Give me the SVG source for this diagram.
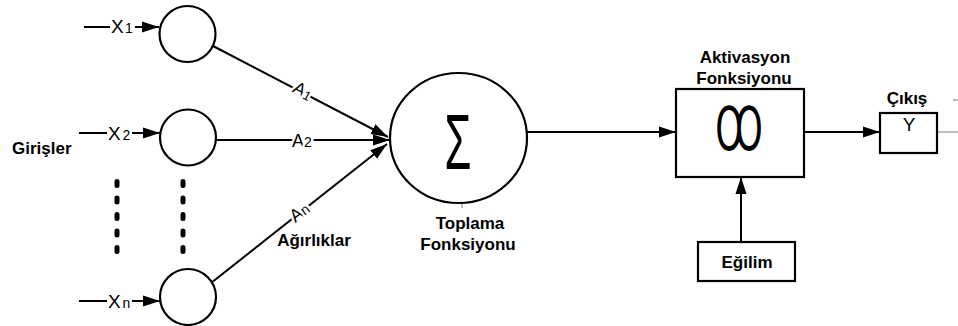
<svg xmlns="http://www.w3.org/2000/svg" width="958" height="326" viewBox="0 0 958 326">
<defs>
<style>
.ln{stroke:#000;stroke-width:2;fill:none}
.gr{stroke:#999;stroke-width:1.3;fill:none}
.nd{stroke:#000;stroke-width:2.2;fill:#fff}
.b{font-family:"Liberation Sans",Arial,sans-serif;font-weight:bold;font-size:17px;fill:#000}
.r{font-family:"Liberation Sans",Arial,sans-serif;font-size:19px;fill:#000}
.s{font-family:"Liberation Sans",Arial,sans-serif;font-size:14px;fill:#000}
.lab{font-family:"Liberation Sans",Arial,sans-serif;font-size:18px;fill:#000;stroke:#fff;stroke-width:5;paint-order:stroke}
.dots{stroke:#000;stroke-width:5;stroke-linecap:round;stroke-dasharray:4 12.5;fill:none}
</style>
<marker id="ah" markerUnits="userSpaceOnUse" markerWidth="18" markerHeight="12" refX="17" refY="6" orient="auto">
<path d="M0,0.5 L17,6 L0,11.5 z" fill="#000"/>
</marker>
</defs>

<g id="connectors">
<line class="ln" x1="84" y1="27" x2="110" y2="27"/>
<line class="ln" x1="135" y1="27" x2="159" y2="27" marker-end="url(#ah)"/>
<line class="ln" x1="79" y1="133" x2="107" y2="133"/>
<line class="ln" x1="132" y1="133" x2="160" y2="133" marker-end="url(#ah)"/>
<line class="ln" x1="79" y1="301" x2="107" y2="301"/>
<line class="ln" x1="132" y1="301" x2="160" y2="301" marker-end="url(#ah)"/>
<line class="ln" x1="213" y1="46" x2="388" y2="137" marker-end="url(#ah)"/>
<line class="ln" x1="216" y1="140" x2="390" y2="140" marker-end="url(#ah)"/>
<line class="ln" x1="211" y1="283" x2="387" y2="144" marker-end="url(#ah)"/>
<line class="ln" x1="527" y1="132" x2="676" y2="132" marker-end="url(#ah)"/>
<line class="ln" x1="804" y1="132" x2="880" y2="132" marker-end="url(#ah)"/>
<line class="ln" x1="741" y1="242" x2="741" y2="177" marker-end="url(#ah)"/>
<line class="gr" x1="937" y1="132" x2="958" y2="132"/>
<line class="gr" x1="953" y1="100" x2="958" y2="100"/>
<line class="gr" x1="462" y1="203" x2="462" y2="208"/>
<line class="dots" x1="117" y1="181.5" x2="117" y2="252"/>
<line class="dots" x1="183" y1="181.5" x2="183" y2="252"/>
<g id="weight-labels">
<text class="lab" transform="translate(300,96) rotate(28)" text-anchor="middle">A<tspan font-size="13" dy="1">1</tspan></text>
<text class="lab" x="302" y="147" text-anchor="middle">A<tspan font-size="14">2</tspan></text>
<text class="lab" transform="translate(303,217) rotate(-38)" text-anchor="middle">A<tspan font-size="14">n</tspan></text>
</g>
</g>

<g id="x1">
<circle class="nd" cx="187.5" cy="34" r="28"/>
<text class="r" x="111" y="33">X</text><text class="s" x="125" y="33">1</text>
</g>
<g id="x2">
<circle class="nd" cx="188" cy="137.5" r="28"/>
<text class="r" x="108" y="140">X</text><text class="s" x="122.5" y="140">2</text>
</g>
<g id="xn">
<circle class="nd" cx="188" cy="297" r="28"/>
<text class="r" x="108" y="308">X</text><text class="s" x="122.5" y="308">n</text>
</g>

<g id="girisler"><text class="b" x="12" y="154">Girişler</text></g>
<g id="agirliklar"><text class="b" x="314" y="246" text-anchor="middle">Ağırlıklar</text></g>

<g id="toplama">
<ellipse class="nd" cx="458.5" cy="138" rx="68.5" ry="65"/>
<text transform="translate(458,169) scale(0.75,1.35)" text-anchor="middle" font-family="'Liberation Sans',Arial,sans-serif" font-size="58">Σ</text>
<text class="b" x="470" y="229" text-anchor="middle">Toplama</text>
<text class="b" x="468" y="250" text-anchor="middle">Fonksiyonu</text>
</g>

<g id="aktivasyon">
<rect class="nd" x="676" y="89" width="128" height="88"/>
<text transform="translate(739,150) scale(0.7,1.2)" text-anchor="middle" font-family="'DejaVu Sans',sans-serif" font-size="50">Ꝏ</text>
<text class="b" x="745" y="63" text-anchor="middle">Aktivasyon</text>
<text class="b" x="744" y="84" text-anchor="middle">Fonksiyonu</text>
</g>

<g id="egilim">
<rect class="nd" x="698" y="242" width="97" height="39"/>
<text class="b" x="747" y="268" text-anchor="middle">Eğilim</text>
</g>

<g id="cikis">
<rect class="nd" x="880" y="113" width="57" height="40"/>
<text class="r" x="909" y="131" text-anchor="middle" font-size="17">Y</text>
<text class="b" x="907" y="104" text-anchor="middle">Çıkış</text>
</g>
</svg>
